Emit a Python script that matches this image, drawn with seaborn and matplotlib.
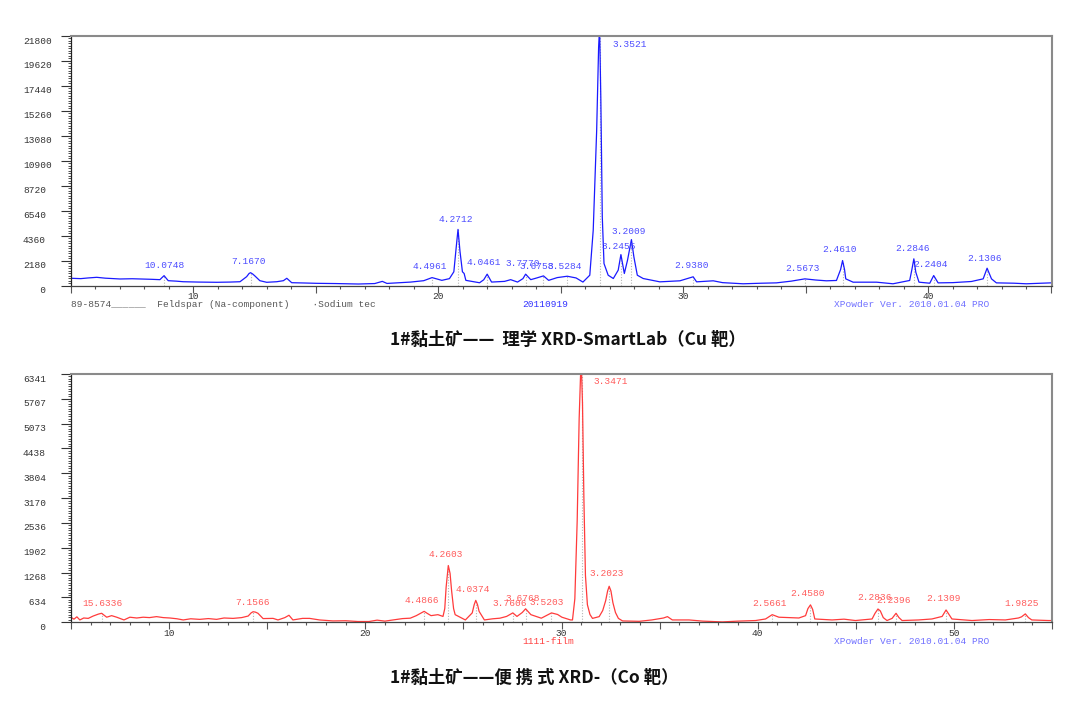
import numpy as np
import matplotlib
matplotlib.use("Agg")
import matplotlib.pyplot as plt
import matplotlib.transforms as mtransforms
from matplotlib.ticker import MultipleLocator, AutoMinorLocator, FuncFormatter
import seaborn as sns

# ---- Top pattern: Rigaku SmartLab, Cu target (2theta, counts)
top_2theta = [5.00, 5.40, 5.70, 6.05, 6.40, 7.00, 7.50, 7.99, 8.30, 8.63, 8.72, 8.80, 8.88, 8.97, 9.30, 9.58,
              10.20, 10.95, 11.50, 11.90, 12.17, 12.27, 12.33, 12.42, 12.51, 12.71, 12.99, 13.40, 13.67, 13.81,
              14.01, 14.50, 15.03, 15.80, 16.73, 17.40, 17.71, 17.90, 18.87, 19.40, 19.74, 20.14,
              20.45, 20.63, 20.72, 20.80, 20.88, 20.98, 21.05, 21.12, 21.68, 21.85, 21.99, 22.17,
              22.70, 22.95, 23.23, 23.45, 23.56, 23.77, 24.00, 24.29, 24.50, 24.85, 25.26, 25.62,
              25.90, 26.18, 26.32, 26.46, 26.54, 26.58, 26.63, 26.69, 26.76, 26.93, 27.14, 27.34,
              27.45, 27.59, 27.72, 27.88, 27.98, 28.12, 28.36, 29.04, 29.86, 30.40, 30.54, 31.22,
              31.60, 32.44, 33.20, 33.80, 34.40, 34.96, 35.40, 35.84, 36.25, 36.42, 36.50, 36.58,
              36.63, 36.93, 37.89, 38.56, 39.24, 39.33, 39.41, 39.49, 39.62, 40.06, 40.22, 40.40,
              41.00, 41.76, 42.24, 42.40, 42.58, 42.78, 43.50, 44.00, 45.00]
top_counts = [630, 600, 660, 715, 640, 570, 590, 560, 540, 510, 700, 860, 650, 420, 380, 330,
              300, 280, 300, 330, 770, 1050, 1120, 1000, 830, 420, 280, 330, 420, 630,
              245, 220, 190, 170, 130, 170, 360, 180, 300, 420, 690, 450,
              600, 1200, 3200, 4900, 3000, 1200, 1050, 450, 240, 500, 990, 300,
              360, 510, 300, 600, 990, 510, 650, 840, 450, 690, 810, 660,
              300, 900, 4830, 13500, 20800, 22600, 16400, 6000, 1920, 900, 610, 1340,
              2700, 1050, 2210, 4010, 2500, 900, 610, 320, 410, 760, 320, 410,
              250, 150, 200, 230, 380, 580, 480, 410, 440, 1400, 2180, 1400,
              580, 290, 290, 150, 440, 1400, 2330, 1160, 290, 200, 870, 230,
              250, 350, 580, 1510, 580, 230, 200, 150, 230]
top_peaks = [8.80, 12.33, 19.74, 20.80, 21.99, 23.56, 24.29, 25.26, 26.58, 27.45, 27.88,
             30.40, 34.96, 36.50, 39.41, 40.22, 42.40]
top_labels = ["10.0748", "7.1670", "4.4961", "4.2712", "4.0461", "3.7770", "3.6758", "3.5284",
              "3.3521", "3.2455", "3.2009", "2.9380", "2.5673", "2.4610", "2.2846", "2.2404", "2.1306"]
top_label_x = [8.80, 12.25, 19.63, 20.69, 21.84, 23.46, 24.02, 25.14, 27.80, 27.36, 27.78,
               30.33, 34.85, 36.36, 39.34, 40.10, 42.28]
top_label_y = [1730, 2080, 1640, 5770, 2020, 1930, 1640, 1700, 21060, 3440, 4750,
               1790, 1500, 3160, 3240, 1850, 2370]
top_yticks = [0, 2180, 4360, 6540, 8720, 10900, 13080, 15260, 17440, 19620, 21800]
top_yticklabels = ["0", "2180", "4360", "6540", "8720", "10900", "13080", "15260", "17440", "19620", "21800"]

# ---- Bottom pattern: portable XRD, Co target
bot_2theta = [5.00, 5.15, 5.30, 5.45, 5.65, 5.88, 6.13, 6.40, 6.56, 6.82, 7.07, 7.33, 7.70, 8.00,
              8.35, 8.68, 9.00, 9.36, 9.70, 10.04, 10.40, 10.72, 11.10, 11.56, 12.00, 12.42,
              12.80, 13.26, 13.70, 14.03, 14.18, 14.28, 14.40, 14.53, 14.79, 15.30, 15.55, 15.90,
              16.11, 16.31, 16.80, 17.16, 17.67, 18.35, 19.00, 19.62, 20.19, 20.60, 21.00, 21.42,
              21.90, 22.29, 22.60, 22.85, 23.00, 23.15, 23.35, 23.70, 23.96, 24.05, 24.12, 24.23,
              24.32, 24.40, 24.50, 24.58, 25.10, 25.45, 25.55, 25.63, 25.72, 25.80, 26.07, 26.50,
              26.86, 27.20, 27.52, 27.73, 28.00, 28.17, 28.44, 28.97, 29.49, 29.80, 30.02, 30.46,
              30.56, 30.68, 30.80, 30.90, 30.97, 31.02, 31.07, 31.14, 31.22, 31.32, 31.45, 31.58,
              31.92, 32.10, 32.25, 32.35, 32.43, 32.52, 32.62, 32.75, 32.90, 33.11, 33.96, 34.60,
              35.20, 35.40, 35.65, 36.50, 37.20, 38.20, 39.00, 39.89, 40.40, 40.74, 41.08, 42.10,
              42.44, 42.56, 42.69, 42.80, 42.91, 43.79, 44.40, 44.98, 45.83, 45.98, 46.13, 46.25,
              46.40, 46.59, 46.85, 47.05, 47.20, 47.36, 48.20, 48.88, 49.40, 49.60, 49.75, 49.90,
              50.92, 51.80, 52.62, 53.29, 53.45, 53.64, 53.80, 53.97, 54.82, 55.00]
bot_counts = [130, 80, 140, 60, 110, 100, 160, 210, 230, 130, 170, 130, 60, 130,
              110, 130, 120, 145, 120, 110, 90, 60, 90, 75, 95, 75,
              110, 100, 120, 160, 240, 270, 260, 230, 95, 100, 60, 120,
              180, 60, 100, 100, 60, 35, 40, 20, 20, 55, 30, 60,
              95, 105, 170, 240, 280, 230, 170, 195, 150, 350, 900, 1450,
              1250, 800, 350, 195, 60, 240, 450, 560, 450, 280, 60, 90,
              105, 150, 240, 150, 250, 345, 195, 105, 240, 200, 130, 60,
              60, 600, 2600, 5200, 6300, 6420, 5600, 3200, 1200, 450, 200, 100,
              145, 300, 550, 800, 920, 800, 500, 250, 100, 35, 25, 60,
              110, 145, 60, 60, 30, 10, 30, 45, 85, 195, 130, 110,
              170, 350, 445, 330, 85, 60, 80, 45, 85, 230, 340, 290,
              120, 45, 100, 230, 120, 45, 60, 85, 150, 315, 200, 85,
              45, 70, 60, 110, 140, 215, 120, 60, 45, 45]
bot_peaks = [6.56, 14.28, 23.00, 24.23, 25.63, 27.52, 28.17, 29.49, 31.02, 32.43,
             40.74, 42.69, 46.13, 47.05, 49.60, 53.64]
bot_labels = ["15.6336", "7.1566", "4.4866", "4.2603", "4.0374", "3.7606", "3.6768", "3.5203",
              "3.3471", "3.2023", "2.5661", "2.4580", "2.2836", "2.2396", "2.1309", "1.9825"]
bot_label_x = [6.60, 14.25, 22.86, 24.10, 25.47, 27.38, 28.02, 29.27, 32.51, 32.29,
               40.62, 42.52, 45.98, 46.94, 49.49, 53.46]
bot_label_y = [470, 510, 550, 1740, 840, 485, 600, 500, 6140, 1235,
               470, 740, 640, 545, 610, 485]
bot_yticks = [0, 634.1, 1268.2, 1902.3, 2536.4, 3170.5, 3804.6, 4438.7, 5072.8, 5706.9, 6341]
bot_yticklabels = ["0", "634", "1268", "1902", "2536", "3170", "3804", "4438", "5073", "5707", "6341"]

sns.set_style("ticks")
plt.rcParams['font.family'] = ['Noto Sans CJK SC', 'DejaVu Sans']
MONO = 'Liberation Mono'
W, H = 1080, 708

fig = plt.figure(figsize=(W / 100, H / 100), dpi=100)
ax_top = fig.add_axes([71 / W, 1 - 285.5 / H, 981 / W, 249.5 / H])
ax_bot = fig.add_axes([71 / W, 1 - 622.3 / H, 981 / W, 248.3 / H])


def draw_panel(ax, tt, counts, color, lab_color, peaks, labels, lab_x, lab_y,
               yticks, yticklabels, xlim):
    sns.lineplot(x=tt, y=counts, ax=ax, color=color, lw=0.9, sort=False, estimator=None)
    peak_h = np.interp(peaks, tt, counts)
    ax.vlines(peaks, 0, peak_h, colors='#b5b5b5', linestyles=(0, (1, 1.5)), lw=0.8, zorder=1)
    for s, x, y in zip(labels, lab_x, lab_y):
        ax.text(x, y, s, ha='center', va='center', fontsize=6.8, family=MONO, color=lab_color)

    ax.set_xlim(*xlim)
    ax.set_ylim(0, yticks[-1])
    ax.set_xlabel('')
    ax.set_ylabel('')

    # x ticks: major every 5 deg, labels every 10 deg
    ax.xaxis.set_major_locator(MultipleLocator(5))
    ax.xaxis.set_minor_locator(MultipleLocator(1))
    ax.xaxis.set_major_formatter(FuncFormatter(lambda v, p: f'{v:.0f}' if abs(v % 10) < 1e-6 else ''))
    ax.tick_params(axis='x', which='major', length=5, width=0.8, color='#555555', pad=0,
                   labelsize=6.8, labelcolor='#333333')
    ax.tick_params(axis='x', which='minor', length=2.5, width=0.8, color='#555555')
    for lab in ax.get_xticklabels():
        lab.set_family(MONO)

    # y ticks: labels drawn by hand, left aligned like the original software
    ax.set_yticks(yticks)
    ax.set_yticklabels([])
    ax.yaxis.set_minor_locator(AutoMinorLocator(10))
    ax.tick_params(axis='y', which='major', length=7, width=0.8, color='#333333')
    ax.tick_params(axis='y', which='minor', length=2.5, width=0.6, color='#333333')
    trans = mtransforms.blended_transform_factory(fig.transFigure, ax.transData)
    trans = mtransforms.offset_copy(trans, fig=fig, y=-5, units='dots')
    for v, s in zip(yticks, yticklabels):
        ax.text(23 / W, v, f'{s:>4}', transform=trans, ha='left', va='center',
                fontsize=6.8, family=MONO, color='#333333', clip_on=False)

    for side in ['top', 'right']:
        ax.spines[side].set_color('#8a8a8a')
        ax.spines[side].set_linewidth(1.5)
    ax.spines['left'].set_color('#222222')
    ax.spines['bottom'].set_color('#444444')
    ax.spines['left'].set_linewidth(0.9)
    ax.spines['bottom'].set_linewidth(0.9)


draw_panel(ax_top, top_2theta, top_counts, '#1a1aff', '#4d4dff', top_peaks, top_labels,
           top_label_x, top_label_y, top_yticks, top_yticklabels, (5, 45.05))
draw_panel(ax_bot, bot_2theta, bot_counts, '#ff3b3b', '#ff5c5c', bot_peaks, bot_labels,
           bot_label_x, bot_label_y, bot_yticks, bot_yticklabels, (5, 55))

# footer texts under each pattern
fig.text(71 / W, 1 - 304.5 / H, '89-8574______  Feldspar (Na-component)    \u00b7Sodium tec',
         family=MONO, fontsize=6.8, color='#555555', ha='left', va='center')
fig.text(545 / W, 1 - 304.5 / H, '20110919', family=MONO, fontsize=6.8, color='#3333ff',
         ha='center', va='center')
fig.text(912 / W, 1 - 304.5 / H, 'XPowder Ver. 2010.01.04 PRO', family=MONO, fontsize=6.8,
         color='#7070ff', ha='center', va='center')
fig.text(548 / W, 1 - 642 / H, '1111-film', family=MONO, fontsize=6.8, color='#ff4040',
         ha='center', va='center')
fig.text(912 / W, 1 - 641.5 / H, 'XPowder Ver. 2010.01.04 PRO', family=MONO, fontsize=6.8,
         color='#7070ff', ha='center', va='center')

# captions
fig.text(390 / W, 1 - 340 / H, '1#黏土矿——  理学 XRD-SmartLab（Cu 靶）', fontsize=12.5,
         weight='bold', ha='left', va='center', color='#111111')
fig.text(390 / W, 1 - 678 / H, '1#黏土矿——便 携 式 XRD-（Co 靶）', fontsize=12.5,
         weight='bold', ha='left', va='center', color='#111111')

fig.savefig('out.png', dpi=100, facecolor='white')
